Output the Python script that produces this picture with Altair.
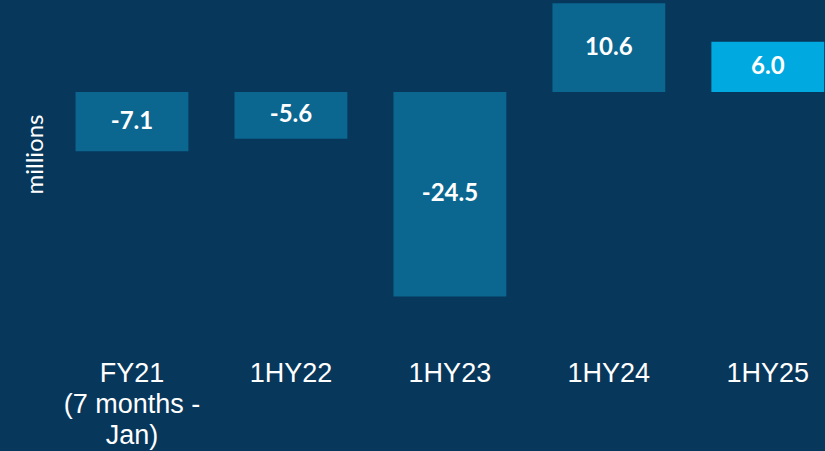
import altair as alt
import pandas as pd

categories = ["FY21\n(7 months -\nJan)", "1HY22", "1HY23", "1HY24", "1HY25"]
values = [-7.1, -5.6, -24.5, 10.6, 6.0]
labels = ["-7.1", "-5.6", "-24.5", "10.6", "6.0"]

df = pd.DataFrame({"Period": categories, "Value": values, "Label": labels})

BG = "#07375b"
BAR = "#0b6790"
HIGHLIGHT = "#00a9e0"

xenc = alt.X(
    "Period:N",
    sort=categories,
    scale=alt.Scale(paddingInner=0.29, paddingOuter=0.24, align=0.99),
    axis=alt.Axis(
        title=None, ticks=False, domain=False, grid=False,
        labelExpr="split(datum.label, '\\n')",
        labelAngle=0, labelFont="Liberation Sans", labelFontSize=27,
        labelColor="white", labelLineHeight=31, labelPadding=0,
        labelBaseline="top", labelLimit=0,
    ),
)

yscale = alt.Scale(domain=[-32.1, 11.0], nice=False)

bars = alt.Chart(df).mark_bar().encode(
    x=xenc,
    y=alt.Y(
        "Value:Q", scale=yscale,
        axis=alt.Axis(
            title="millions", labels=False, ticks=False, domain=False, grid=False,
            titleFont="Lato", titleFontSize=24, titleFontWeight="normal",
            titleColor="white", titleAngle=-90, titleX=35, titleY=154,
            titleAlign="center", titleBaseline="middle",
        ),
    ),
    y2=alt.datum(0),
    color=alt.Color(
        "Period:N",
        scale=alt.Scale(domain=categories, range=[BAR, BAR, BAR, BAR, HIGHLIGHT]),
        legend=None,
    ),
)

text = alt.Chart(df).transform_calculate(
    mid="datum.Value / 2"
).mark_text(
    font="Lato", fontSize=24, fontWeight="bold", color="white", baseline="middle"
).encode(
    x=alt.X("Period:N", sort=categories),
    y=alt.Y("mid:Q", scale=yscale),
    text="Label:N",
)

chart = alt.layer(bars, text).properties(
    width=825, height=360,
    background=BG,
    padding={"left": 0, "right": 0, "top": 0, "bottom": 91},
    autosize=alt.AutoSizeParams(type="none"),
).configure_view(stroke=None)

chart.save("out.html", embed_options={"renderer": "svg", "actions": False})
